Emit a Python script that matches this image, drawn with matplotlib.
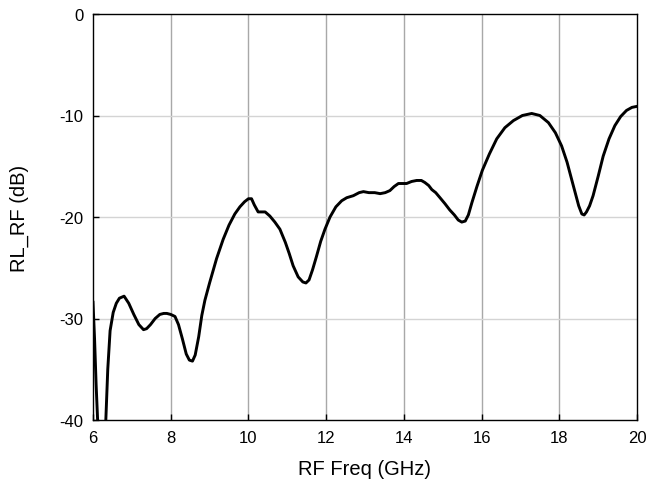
"""Return loss of the RF port versus frequency."""

import matplotlib
matplotlib.use("Agg")
import matplotlib.pyplot as plt

plt.rcParams["font.family"] = ["Liberation Sans", "DejaVu Sans"]
plt.rcParams["axes.unicode_minus"] = False

# frequency (GHz) and return loss (dB)
FREQ_GHZ = [
    6.00, 6.04, 6.08, 6.13, 6.18, 6.23, 6.28, 6.33, 6.38, 6.44, 6.52, 6.60,
    6.68, 6.80, 6.92, 7.05, 7.18, 7.30, 7.38, 7.48, 7.60, 7.72, 7.82, 7.90,
    8.00, 8.11, 8.20, 8.30, 8.40, 8.48, 8.56, 8.63, 8.72, 8.80, 8.88, 9.00,
    9.18, 9.35, 9.50, 9.65, 9.78, 9.90, 10.00, 10.08, 10.15, 10.25, 10.35,
    10.43, 10.55, 10.68, 10.81, 10.95, 11.05, 11.15, 11.28, 11.40, 11.48,
    11.56, 11.65, 11.75, 11.86, 11.97, 12.10, 12.25, 12.40, 12.53, 12.70,
    12.85, 12.96, 13.10, 13.25, 13.39, 13.52, 13.64, 13.75, 13.86, 13.96,
    14.07, 14.20, 14.33, 14.45, 14.54, 14.64, 14.72, 14.82, 14.93, 15.06,
    15.18, 15.30, 15.40, 15.49, 15.58, 15.66, 15.75, 15.88, 16.02, 16.20,
    16.39, 16.60, 16.82, 17.05, 17.29, 17.50, 17.72, 17.90, 18.06, 18.20,
    18.36, 18.50, 18.58, 18.64, 18.70, 18.78, 18.87, 19.00, 19.13, 19.28,
    19.43, 19.58, 19.73, 19.87, 20.00,
]
RL_DB = [
    -28.4, -32.0, -36.5, -41.0, -45.0, -46.0, -44.0, -40.0, -35.0, -31.2, -29.4, -28.5,
    -28.0, -27.8, -28.5, -29.6, -30.6, -31.1, -31.0, -30.6, -30.0, -29.6, -29.5, -29.5,
    -29.6, -29.8, -30.6, -32.0, -33.5, -34.1, -34.2, -33.6, -31.8, -29.7, -28.2, -26.5,
    -24.1, -22.2, -20.8, -19.7, -19.0, -18.5, -18.2, -18.2, -18.8, -19.5, -19.5,
    -19.5, -19.9, -20.5, -21.2, -22.5, -23.6, -24.8, -25.9, -26.4, -26.5,
    -26.2, -25.2, -23.9, -22.4, -21.2, -20.0, -19.0, -18.4, -18.1, -17.9,
    -17.6, -17.5, -17.6, -17.6, -17.7, -17.6, -17.4, -17.0, -16.7, -16.7,
    -16.7, -16.5, -16.4, -16.4, -16.6, -16.9, -17.3, -17.6, -18.1, -18.7,
    -19.3, -19.8, -20.3, -20.5, -20.4, -19.8, -18.6, -17.0, -15.4, -13.8,
    -12.3, -11.2, -10.5, -10.0, -9.8, -10.0, -10.7, -11.7, -13.0, -14.6,
    -16.9, -18.9, -19.7, -19.8, -19.5, -18.9, -17.9, -16.0, -14.0, -12.3,
    -11.0, -10.1, -9.5, -9.2, -9.1,
]

X_TICKS = [6, 8, 10, 12, 14, 16, 18, 20]
Y_TICKS = [-40, -30, -20, -10, 0]


def main() -> None:
    fig = plt.figure(figsize=(6.49, 4.89), dpi=100)
    ax = fig.add_axes([93 / 649, 1 - 421 / 489, 544 / 649, 406 / 489])

    ax.plot(FREQ_GHZ, RL_DB, color="black", linewidth=2.1, solid_joinstyle="round", zorder=3)

    ax.set_xlim(6, 20)
    ax.set_ylim(-40, 0)
    ax.set_xticks(X_TICKS)
    ax.set_yticks(Y_TICKS)
    for x in X_TICKS[1:-1]:
        ax.axvline(x, color="#a8a8a8", linewidth=1.0, zorder=1)
    for y in Y_TICKS[1:-1]:
        ax.axhline(y, color="#d4d4d4", linewidth=1.0, zorder=1)

    ax.tick_params(direction="in", length=4, width=1, labelsize=12, pad=7)
    for spine in ax.spines.values():
        spine.set_linewidth(1.0)

    ax.set_xlabel("RF Freq (GHz)", fontsize=14.5, labelpad=10)
    ax.set_ylabel("RL_RF (dB)", fontsize=14.5, labelpad=22)

    fig.savefig("out.png", dpi=100)
    plt.close(fig)


if __name__ == "__main__":
    main()
